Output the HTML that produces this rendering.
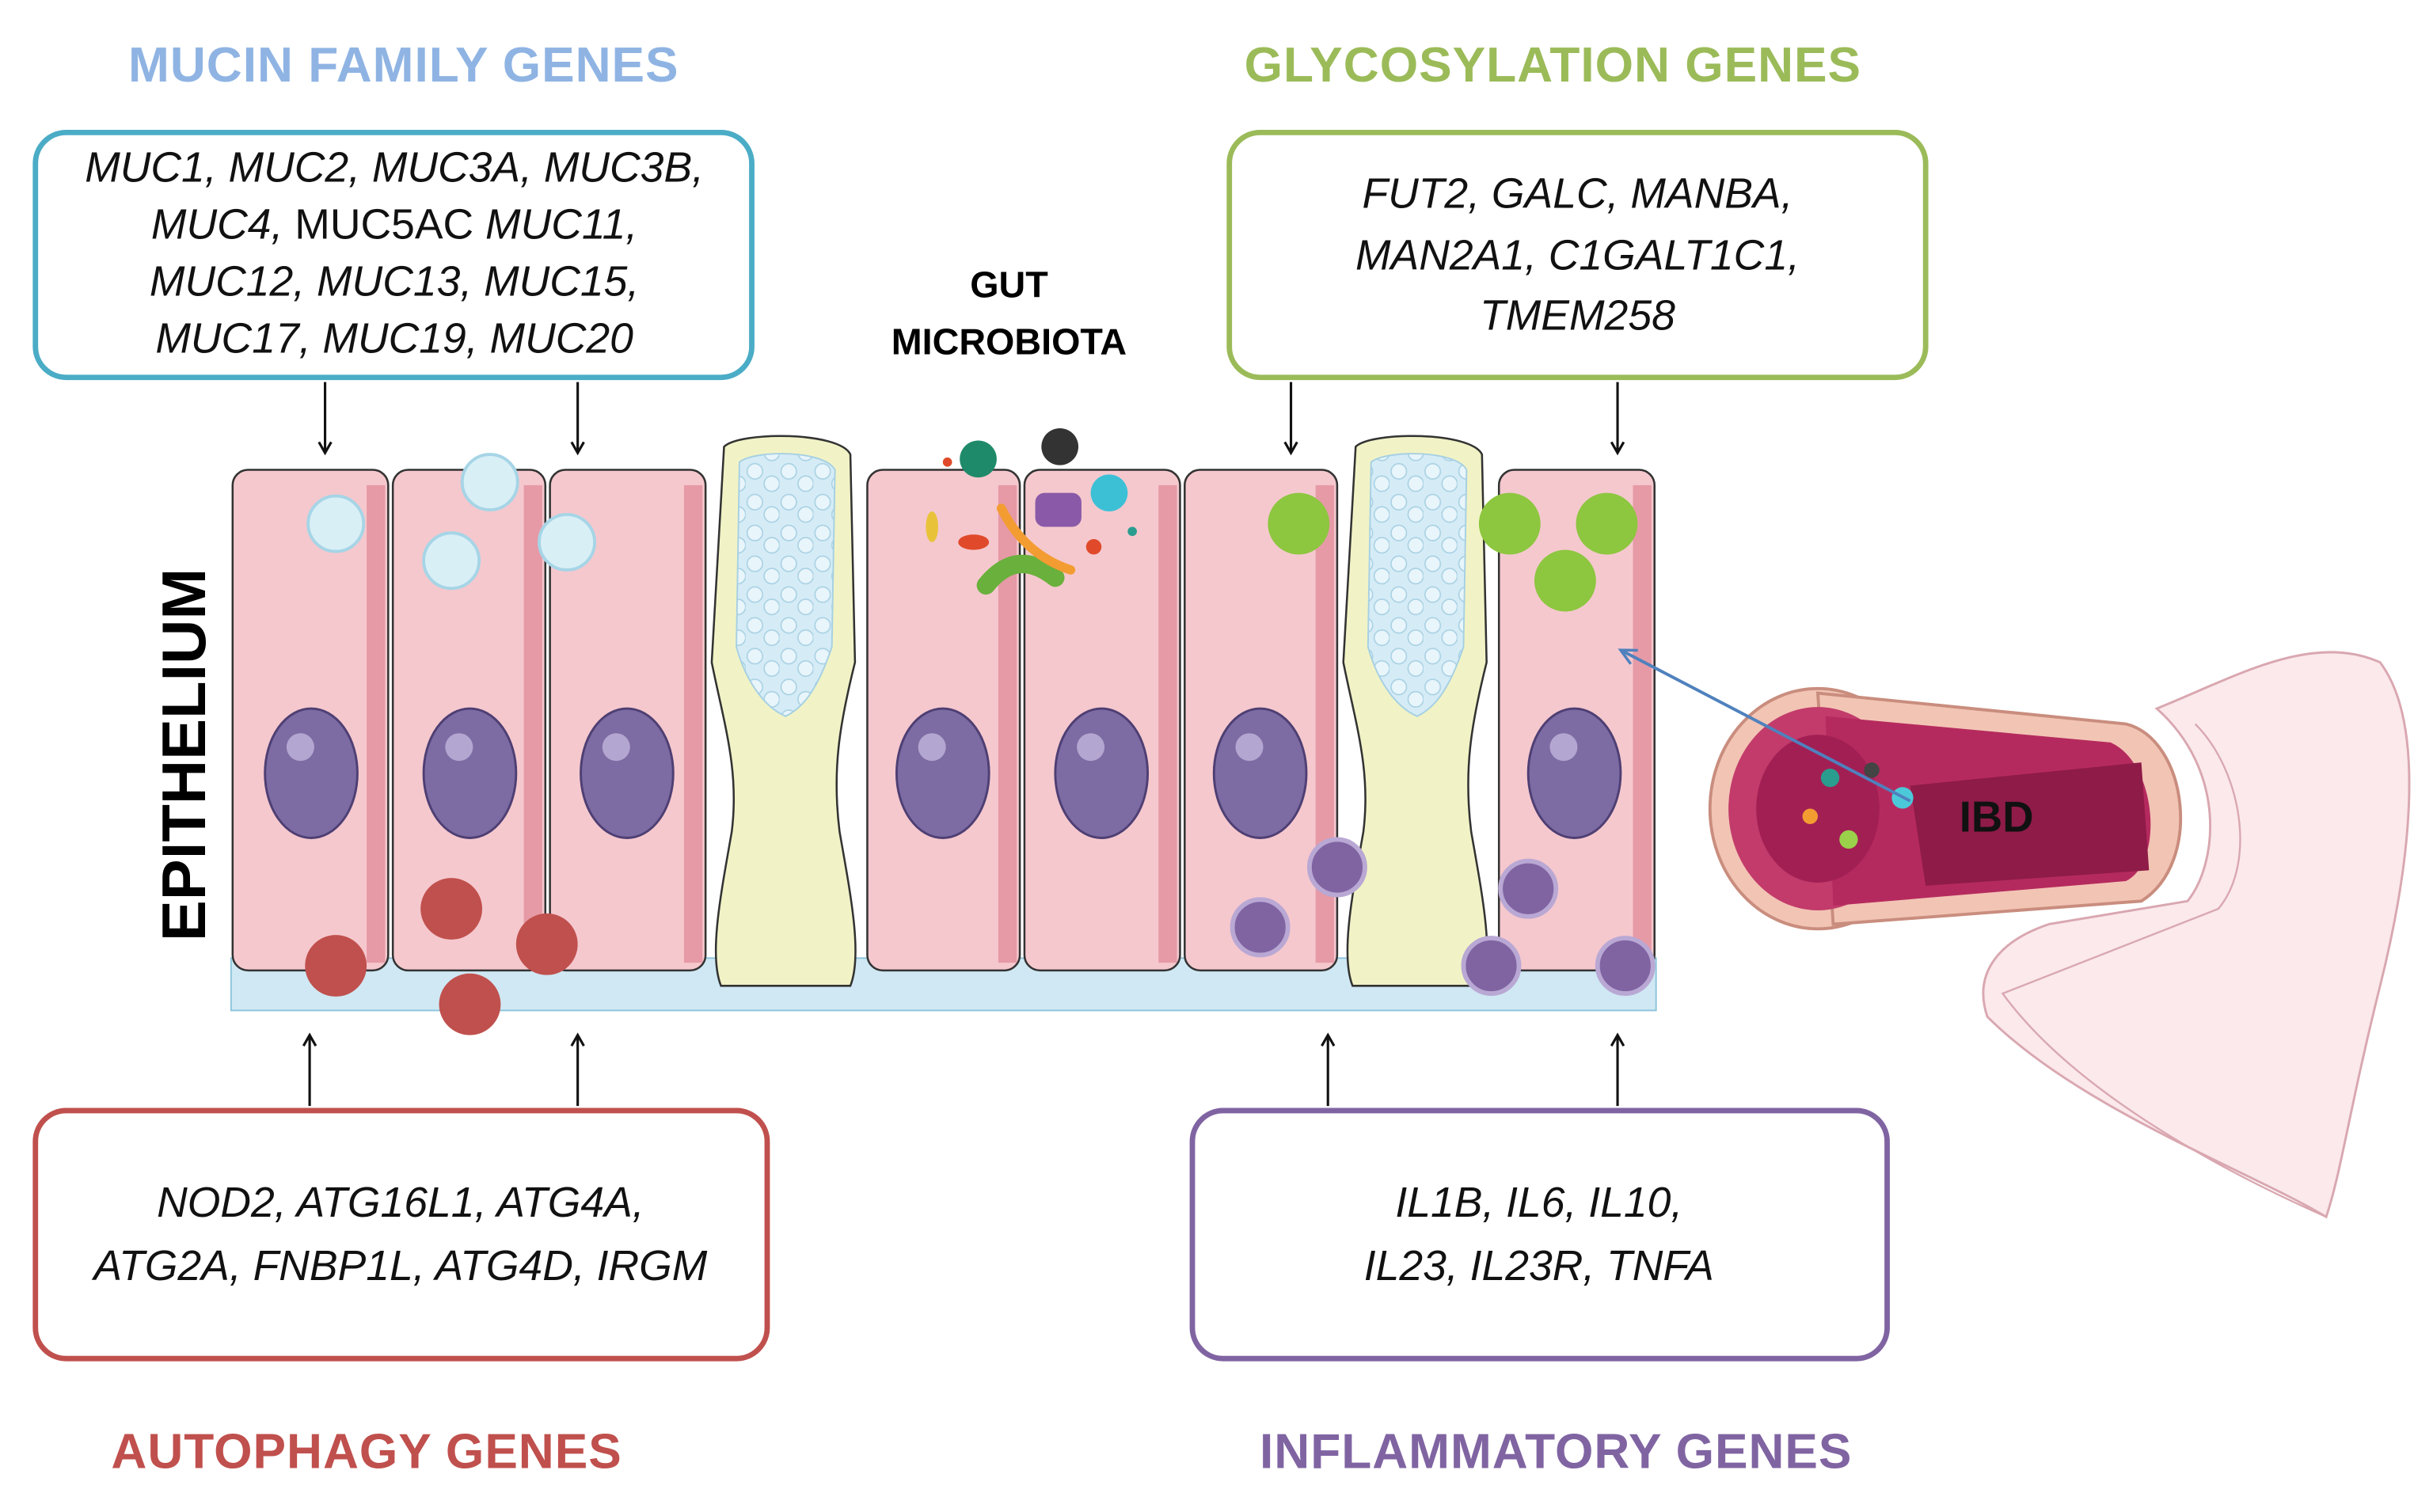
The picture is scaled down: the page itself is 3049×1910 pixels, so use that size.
<!DOCTYPE html>
<html><head><meta charset="utf-8"><style>
html,body{margin:0;padding:0;background:#fff;}
svg{display:block;}
text{font-family:"Liberation Sans",sans-serif;}
.t{font-weight:bold;font-size:32px;text-anchor:middle;letter-spacing:0.5px;}
.g{font-style:italic;font-size:27.5px;text-anchor:middle;fill:#111;}
</style></head><body>
<svg width="3049" height="1910" viewBox="0 0 1567 981.6" xmlns="http://www.w3.org/2000/svg">
<defs>
<marker id="ah" markerWidth="10" markerHeight="10" refX="8" refY="5" orient="auto" markerUnits="userSpaceOnUse">
<path d="M1,1 L8,5 L1,9" fill="none" stroke="#111" stroke-width="1.6"/></marker>
<marker id="bh" markerWidth="14" markerHeight="14" refX="11" refY="7" orient="auto" markerUnits="userSpaceOnUse">
<path d="M1,2 L11,7 L1,12" fill="none" stroke="#4f81bd" stroke-width="1.8"/></marker>
<pattern id="bub" width="22" height="20" patternUnits="userSpaceOnUse">
<rect width="22" height="20" fill="#d5ecf6"/>
<circle cx="6" cy="6" r="5" fill="#e8f5fb" stroke="#a7d0e3" stroke-width="0.8"/>
<circle cx="17" cy="14" r="5" fill="#e8f5fb" stroke="#a7d0e3" stroke-width="0.8"/>
</pattern>
</defs>

<!-- titles -->
<text class="t" x="262" y="53" fill="#8fb4e3">MUCIN FAMILY GENES</text>
<text class="t" x="1008" y="53" fill="#9bbb59">GLYCOSYLATION GENES</text>
<text class="t" x="238" y="953" fill="#c0504d">AUTOPHAGY GENES</text>
<text class="t" x="1010" y="953" fill="#8064a2">INFLAMMATORY GENES</text>

<!-- intestine tail (behind) -->
<path d="M1400,460 C1450,440 1500,410 1545,430 C1575,470 1565,560 1545,640 C1525,720 1520,760 1510,790 C1460,760 1350,720 1290,660 C1280,630 1300,610 1330,600 L1420,585 C1440,560 1445,500 1400,460 Z" fill="#fbe9ec" stroke="#d9a7b0" stroke-width="1.5"/>
<path d="M1425,470 C1455,500 1465,560 1440,590 L1300,645 C1340,700 1420,750 1510,790" fill="none" stroke="#d9a7b0" stroke-width="1.2"/>

<!-- boxes -->
<rect x="23" y="86" width="465" height="159" rx="20" fill="#fff" stroke="#4bacc6" stroke-width="3.5"/>
<text class="g" x="256" y="118">MUC1, MUC2, MUC3A, MUC3B,</text>
<text class="g" x="256" y="155">MUC4, <tspan font-style="normal">MUC5AC</tspan> MUC11,</text>
<text class="g" x="256" y="192">MUC12, MUC13, MUC15,</text>
<text class="g" x="256" y="229">MUC17, MUC19, MUC20</text>

<rect x="798" y="86" width="452" height="159" rx="20" fill="#fff" stroke="#9bbb59" stroke-width="3.5"/>
<text class="g" x="1024" y="135">FUT2, GALC, MANBA,</text>
<text class="g" x="1024" y="175">MAN2A1, C1GALT1C1,</text>
<text class="g" x="1024" y="214">TMEM258</text>

<rect x="23" y="721" width="475" height="161" rx="20" fill="#fff" stroke="#c0504d" stroke-width="3.5"/>
<text class="g" x="260" y="790">NOD2, ATG16L1, ATG4A,</text>
<text class="g" x="260" y="831">ATG2A, FNBP1L, ATG4D, IRGM</text>

<rect x="774" y="721" width="451" height="161" rx="20" fill="#fff" stroke="#8064a2" stroke-width="3.5"/>
<text class="g" x="999" y="790">IL1B, IL6, IL10,</text>
<text class="g" x="999" y="831">IL23, IL23R, TNFA</text>

<!-- arrows -->
<g stroke="#111" stroke-width="1.6" marker-end="url(#ah)">
<line x1="211" y1="248" x2="211" y2="294"/><line x1="375" y1="248" x2="375" y2="294"/>
<line x1="838" y1="248" x2="838" y2="294"/><line x1="1050" y1="248" x2="1050" y2="294"/>
<line x1="201" y1="718" x2="201" y2="672"/><line x1="375" y1="718" x2="375" y2="672"/>
<line x1="862" y1="718" x2="862" y2="672"/><line x1="1050" y1="718" x2="1050" y2="672"/>
</g>

<text x="655" y="193" font-weight="bold" font-size="24" text-anchor="middle">GUT</text>
<text x="655" y="230" font-weight="bold" font-size="24" text-anchor="middle">MICROBIOTA</text>
<text transform="translate(133,490) rotate(-90)" font-weight="bold" font-size="40" text-anchor="middle">EPITHELIUM</text>

<!-- IBD intestine -->
<g>
<ellipse cx="1180" cy="525" rx="70" ry="78" fill="#f2c4b4" stroke="#c98d7e" stroke-width="2"/>
<path d="M1180,450 L1380,470 C1420,480 1430,560 1390,585 L1190,600 Z" fill="#f2c4b4" stroke="#c98d7e" stroke-width="2"/>
<ellipse cx="1180" cy="525" rx="58" ry="66" fill="#c23b6b"/>
<path d="M1185,465 L1370,482 C1400,495 1405,560 1380,572 L1190,588 Z" fill="#b52a5e"/>
<path d="M1240,510 L1390,495 L1395,565 L1250,575 Z" fill="#8e1b48"/>
<ellipse cx="1180" cy="525" rx="40" ry="48" fill="#a21f54"/>
<circle cx="1188" cy="505" r="6" fill="#2a9d8f"/><circle cx="1235" cy="518" r="7" fill="#4cc9d9"/>
<circle cx="1215" cy="500" r="5" fill="#444"/><circle cx="1200" cy="545" r="6" fill="#9ad04a"/>
<circle cx="1175" cy="530" r="5" fill="#f39c32"/>
<text x="1296" y="540" font-weight="bold" font-size="28" text-anchor="middle" fill="#111">IBD</text>
</g>

<!-- base membrane -->
<rect x="150" y="622" width="925" height="34" fill="#cfe8f3" stroke="#8ec5dc" stroke-width="1"/>

<!-- cells -->
<g stroke="#333" stroke-width="1.3">
<rect x="151" y="305" width="101" height="325" rx="10" fill="#f5c8ce"/>
<rect x="255" y="305" width="99" height="325" rx="10" fill="#f5c8ce"/>
<rect x="357" y="305" width="101" height="325" rx="10" fill="#f5c8ce"/>
<rect x="563" y="305" width="99" height="325" rx="10" fill="#f5c8ce"/>
<rect x="665" y="305" width="101" height="325" rx="10" fill="#f5c8ce"/>
<rect x="769" y="305" width="99" height="325" rx="10" fill="#f5c8ce"/>
<rect x="973" y="305" width="101" height="325" rx="10" fill="#f5c8ce"/>
</g>
<g fill="#e69aa6">
<rect x="238" y="315" width="12" height="310"/><rect x="340" y="315" width="12" height="310"/>
<rect x="444" y="315" width="12" height="310"/><rect x="648" y="315" width="12" height="310"/>
<rect x="752" y="315" width="12" height="310"/><rect x="854" y="315" width="12" height="310"/>
<rect x="1060" y="315" width="12" height="310"/>
</g>
<!-- goblet -->
<g>
<path d="M470,290 C480,280 545,280 552,295 L555,430 C545,470 540,500 545,540 C552,580 560,620 552,640 L468,640 C460,620 468,580 475,540 C480,500 470,470 462,430 Z" fill="#f1f3c6" stroke="#333" stroke-width="1.3"/>
<path d="M480,300 C490,292 535,292 542,305 L540,420 C530,450 520,460 510,465 C498,460 485,445 478,420 Z" fill="url(#bub)" stroke="#a7d0e3"/>
<path d="M880,290 C890,280 955,280 962,295 L965,430 C955,470 950,500 955,540 C962,580 970,620 962,640 L878,640 C870,620 878,580 885,540 C890,500 880,470 872,430 Z" fill="#f1f3c6" stroke="#333" stroke-width="1.3"/>
<path d="M890,300 C900,292 945,292 952,305 L950,420 C940,450 930,460 920,465 C908,460 895,445 888,420 Z" fill="url(#bub)" stroke="#a7d0e3"/>
</g>
<!-- nuclei -->
<g fill="#7d6ba3" stroke="#4e3f73" stroke-width="1.5">
<ellipse cx="202" cy="502" rx="30" ry="42"/><ellipse cx="305" cy="502" rx="30" ry="42"/>
<ellipse cx="407" cy="502" rx="30" ry="42"/><ellipse cx="612" cy="502" rx="30" ry="42"/>
<ellipse cx="715" cy="502" rx="30" ry="42"/><ellipse cx="818" cy="502" rx="30" ry="42"/>
<ellipse cx="1022" cy="502" rx="30" ry="42"/>
</g>
<g fill="#b3a6d0">
<circle cx="195" cy="485" r="9"/><circle cx="298" cy="485" r="9"/><circle cx="400" cy="485" r="9"/>
<circle cx="605" cy="485" r="9"/><circle cx="708" cy="485" r="9"/><circle cx="811" cy="485" r="9"/><circle cx="1015" cy="485" r="9"/>
</g>
<!-- vesicles -->
<g fill="#d9eff6" stroke="#a6d5e6" stroke-width="2">
<circle cx="218" cy="340" r="18"/><circle cx="318" cy="313" r="18"/><circle cx="293" cy="364" r="18"/><circle cx="368" cy="352" r="18"/>
</g>
<g fill="#8dc63f"><circle cx="843" cy="340" r="20"/><circle cx="980" cy="340" r="20"/><circle cx="1043" cy="340" r="20"/><circle cx="1016" cy="377" r="20"/></g>
<g fill="#c0504d"><circle cx="218" cy="627" r="20"/><circle cx="293" cy="590" r="20"/><circle cx="355" cy="613" r="20"/><circle cx="305" cy="652" r="20"/></g>
<g fill="#8064a2" stroke="#b9a8d4" stroke-width="3"><circle cx="868" cy="563" r="18"/><circle cx="818" cy="602" r="18"/><circle cx="992" cy="577" r="18"/><circle cx="968" cy="627" r="18"/><circle cx="1055" cy="627" r="18"/></g>

<!-- microbiota -->
<g>
<circle cx="635" cy="298" r="12" fill="#1f8a6a"/><circle cx="688" cy="290" r="12" fill="#333"/>
<circle cx="720" cy="320" r="12" fill="#3cc0d6"/><rect x="672" y="320" width="30" height="22" rx="6" fill="#8a5aa8"/>
<path d="M640,380 q20,-25 45,-5" stroke="#6ab03c" stroke-width="12" fill="none" stroke-linecap="round"/>
<path d="M650,330 q15,30 45,40" stroke="#f39c32" stroke-width="6" fill="none" stroke-linecap="round"/>
<ellipse cx="632" cy="352" rx="10" ry="5" fill="#e04a2a"/><ellipse cx="605" cy="342" rx="4" ry="10" fill="#e8c33a"/>
<circle cx="710" cy="355" r="5" fill="#e04a2a"/><circle cx="615" cy="300" r="3" fill="#e04a2a"/><circle cx="735" cy="345" r="3" fill="#2a9d8f"/>
</g>

<line x1="1240" y1="520" x2="1052" y2="422" stroke="#4f81bd" stroke-width="2" marker-end="url(#bh)"/>
</svg>
</body></html>
